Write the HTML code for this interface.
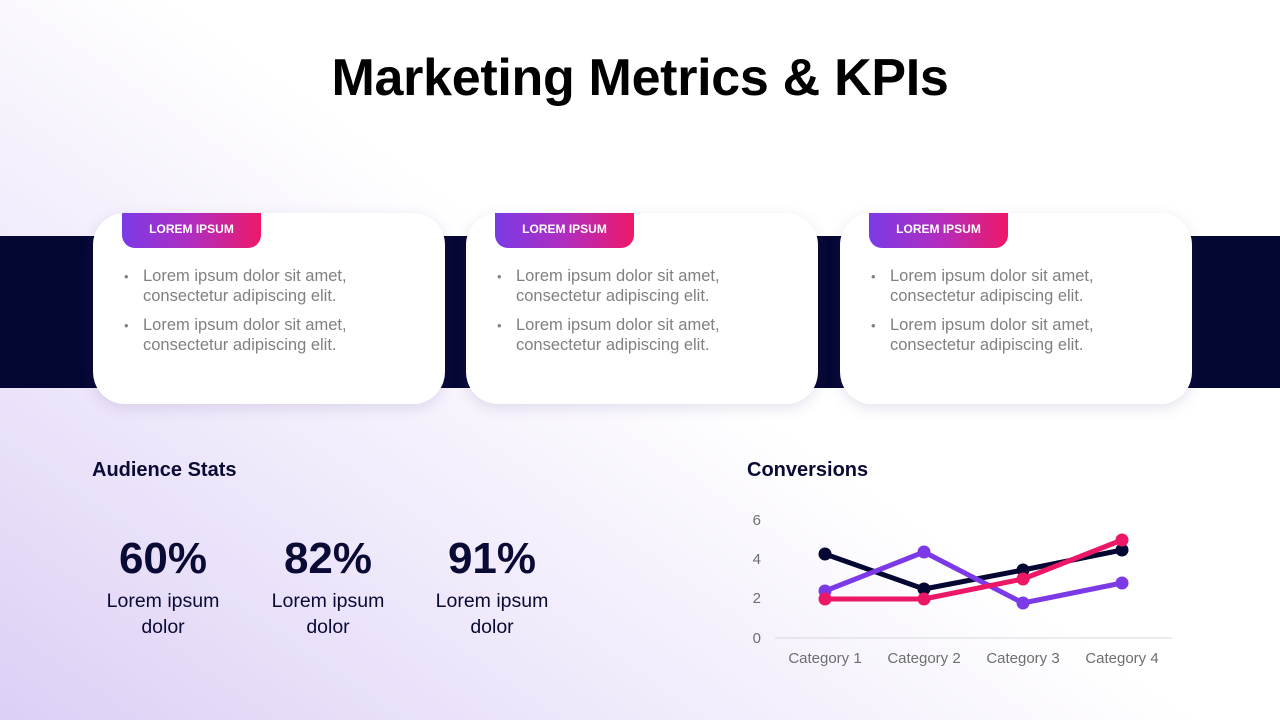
<!DOCTYPE html>
<html><head><meta charset="utf-8"><style>
*{margin:0;padding:0;box-sizing:border-box}
body{width:1280px;height:720px;overflow:hidden;position:relative;font-family:"Liberation Sans",sans-serif;
background:linear-gradient(35deg,#dccff5 0%,#ece4fa 22%,#ffffff 52%,#ffffff 100%);}
.title{position:absolute;top:48px;left:0;width:1280px;text-align:center;font-size:52px;font-weight:bold;color:#000;letter-spacing:-0.3px}
.band{position:absolute;left:0;top:236px;width:1280px;height:152px;background:#050733}
.card{position:absolute;top:213px;width:352px;height:191px;background:#fff;border-radius:32px;box-shadow:0 4px 14px rgba(80,60,140,.15)}
.tab{position:absolute;left:29px;top:0;width:139px;height:35px;border-radius:0 0 13px 13px;background:linear-gradient(90deg,#7b3ae6,#b02ec0 50%,#ee1868);color:#fff;font-size:12px;font-weight:bold;text-align:center;line-height:33px}
.card ul{position:absolute;left:50px;top:54px;list-style:none;color:#808080;font-size:16.5px;line-height:19.5px;white-space:nowrap}
.card li{position:relative;margin-bottom:10px}
.card li:before{content:"•";position:absolute;left:-19px;font-size:13px;color:#808080}
.h{position:absolute;font-size:20px;font-weight:bold;color:#0a0b35}
.stat{position:absolute;top:532px;width:140px;text-align:center;color:#0a0b35}
.stat b{display:block;font-size:44px;line-height:54px}
.stat span{display:block;font-size:19.5px;line-height:26px;margin-top:2px}
</style></head><body>
<div class="title">Marketing Metrics &amp; KPIs</div>
<div class="band"></div>
<div class="card" style="left:93px"><div class="tab">LOREM IPSUM</div><ul><li>Lorem ipsum dolor sit amet,<br>consectetur adipiscing elit.</li><li>Lorem ipsum dolor sit amet,<br>consectetur adipiscing elit.</li></ul></div>
<div class="card" style="left:466px"><div class="tab">LOREM IPSUM</div><ul><li>Lorem ipsum dolor sit amet,<br>consectetur adipiscing elit.</li><li>Lorem ipsum dolor sit amet,<br>consectetur adipiscing elit.</li></ul></div>
<div class="card" style="left:840px"><div class="tab">LOREM IPSUM</div><ul><li>Lorem ipsum dolor sit amet,<br>consectetur adipiscing elit.</li><li>Lorem ipsum dolor sit amet,<br>consectetur adipiscing elit.</li></ul></div>
<div class="h" style="left:92px;top:459px">Audience Stats</div>
<div class="h" style="left:747px;top:459px">Conversions</div>
<div class="stat" style="left:93px"><b>60%</b><span>Lorem ipsum<br>dolor</span></div>
<div class="stat" style="left:258px"><b>82%</b><span>Lorem ipsum<br>dolor</span></div>
<div class="stat" style="left:422px"><b>91%</b><span>Lorem ipsum<br>dolor</span></div>
<svg style="position:absolute;left:0;top:0" width="1280" height="720">
<g font-family="Liberation Sans,sans-serif" font-size="15" fill="#6e6e6e">
<text x="761" y="525" text-anchor="end">6</text>
<text x="761" y="564" text-anchor="end">4</text>
<text x="761" y="603" text-anchor="end">2</text>
<text x="761" y="643" text-anchor="end">0</text>
<g text-anchor="middle"><text x="825" y="663">Category 1</text><text x="924" y="663">Category 2</text><text x="1023" y="663">Category 3</text><text x="1122" y="663">Category 4</text></g>
</g>
<line x1="775" y1="638" x2="1172" y2="638" stroke="#d9d9d9" stroke-width="1"/>
<g stroke-width="5" fill="none" stroke-linejoin="round">
<polyline points="825,554 924,589 1023,570 1122,550" stroke="#050733"/>
<polyline points="825,591 924,552 1023,603 1122,583" stroke="#7b3ae6"/>
<polyline points="825,599 924,599 1023,579 1122,540" stroke="#ec1766"/>
</g>
<g fill="#050733"><circle cx="825" cy="554" r="6.5"/><circle cx="924" cy="589" r="6.5"/><circle cx="1023" cy="570" r="6.5"/><circle cx="1122" cy="550" r="6.5"/></g>
<g fill="#7b3ae6"><circle cx="825" cy="591" r="6.5"/><circle cx="924" cy="552" r="6.5"/><circle cx="1023" cy="603" r="6.5"/><circle cx="1122" cy="583" r="6.5"/></g>
<g fill="#ec1766"><circle cx="825" cy="599" r="6.5"/><circle cx="924" cy="599" r="6.5"/><circle cx="1023" cy="579" r="6.5"/><circle cx="1122" cy="540" r="6.5"/></g>
</svg>
</body></html>
